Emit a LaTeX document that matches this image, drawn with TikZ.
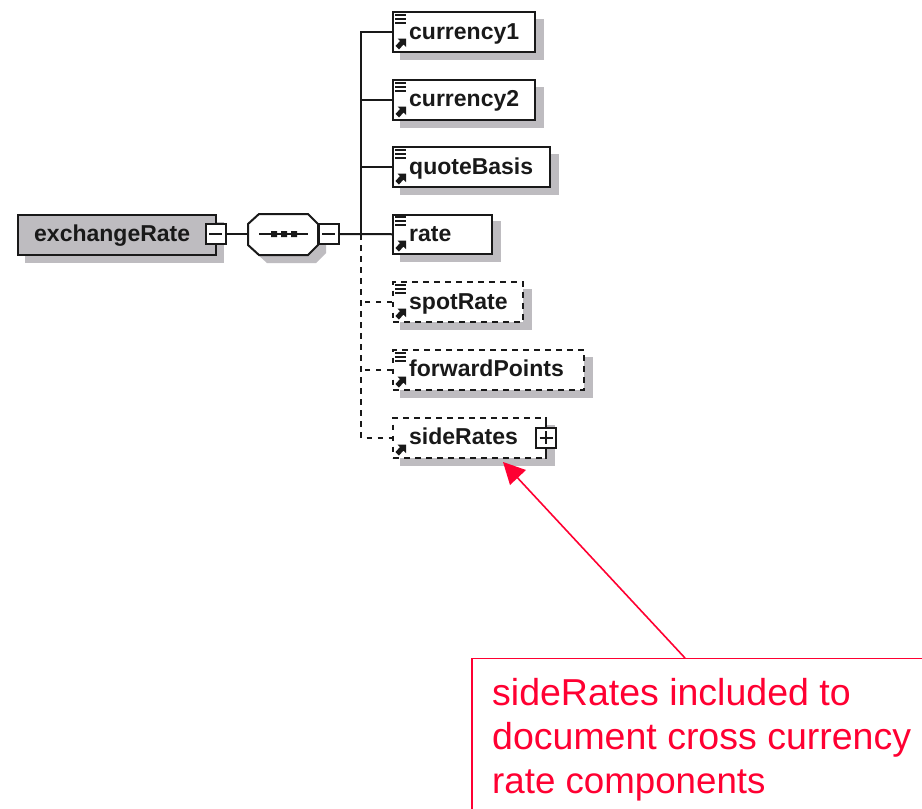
\documentclass[tikz,border=0pt]{standalone}
\usepackage{fontspec}
\setmainfont{Liberation Sans}
\definecolor{shadowgray}{RGB}{190,188,192}
\definecolor{rootgray}{RGB}{190,188,192}
\definecolor{inkdark}{RGB}{25,25,25}
\definecolor{notered}{RGB}{255,0,50}
\tikzset{
  x=1pt,y=-1pt,
  conn/.style={inkdark,line width=2pt},
  dconn/.style={inkdark,line width=2pt,dash pattern=on 5.5pt off 5.5pt},
  elbox/.style={draw=inkdark,fill=white,line width=2pt,minimum height=39.5pt,inner sep=0pt,anchor=north west},
  optbox/.style={elbox,dash pattern=on 5.5pt off 5.5pt},
  lab/.style={font=\fontsize{23}{23}\bfseries\selectfont,text=inkdark,anchor=base west,inner sep=0pt},
  notelab/.style={anchor=base west,inner sep=0pt,text=notered,font=\fontsize{37.5}{37.5}\selectfont},
  togglebox/.style={draw=inkdark,fill=white,line width=2pt,minimum width=20pt,minimum height=20pt,inner sep=0pt},
  shade/.style={fill=shadowgray,draw=none},
  lines/.style={inkdark,line width=1.2pt},
}
\newcommand{\elementicons}[2]{%
  \fill[inkdark] (#1+5.5,#2+27.5) -- (#1+14,#2+27.5) -- (#1+14,#2+36) -- (#1+11.5,#2+33.5) -- (#1+7,#2+38.5) -- (#1+3.5,#2+35) -- (#1+8,#2+30) -- cycle;}
\newcommand{\doclines}[2]{%
  \draw[lines] (#1+3,#2+4) -- (#1+14,#2+4) (#1+3,#2+8) -- (#1+14,#2+8) (#1+3,#2+12) -- (#1+14,#2+12);}
\begin{document}
\begin{tikzpicture}
\useasboundingbox (0,0) rectangle (922,809);
\fill[white] (0,0) rectangle (922,809);
% shadows
\fill[shade] (25,222) rectangle (224,263);
\fill[shade] (256,232) -- (267,222) -- (316,222) -- (326,232) -- (326,253) -- (316,263) -- (267,263) -- (256,253) -- cycle;
\foreach \l/\t/\r in {392/11/536,392/79/536,392/146/551,392/213/493,392/281/524,392/349/585,392/417/547}
  \fill[shade] (\l+8,\t+8) rectangle (\r+8,\t+49);
% root
\node[draw=inkdark,fill=rootgray,line width=2pt,minimum width=198pt,minimum height=40pt,inner sep=0pt,anchor=north west] (root) at (17,214) {};
\node[lab] (rootlab) at (34,241) {exchangeRate};
% sequence compositor
\draw[draw=inkdark,fill=white,line width=2pt] (248,224) -- (259,214) -- (308,214) -- (318,224) -- (318,245) -- (308,255) -- (259,255) -- (248,245) -- cycle;
\coordinate (seqW) at (248,234);
\draw[inkdark,line width=2pt] (259,234) -- (308,234);
\fill[inkdark] (271,231) rectangle (277,237) (281,231) rectangle (287,237) (291,231) rectangle (297,237);
% toggles
\node[togglebox] (tg1) at (215.5,234) {};
\draw[inkdark,line width=1.5pt] (209,234) -- (222,234);
\node[togglebox] (tg2) at (328.5,234) {};
\draw[inkdark,line width=1.5pt] (322,234) -- (335,234);
% elements
\node[elbox,minimum width=142pt] (currency1) at (392,11) {};
\node[elbox,minimum width=142pt] (currency2) at (392,79) {};
\node[elbox,minimum width=157pt] (quoteBasis) at (392,146) {};
\node[elbox,minimum width=99pt] (rate) at (392,213.5) {};
\node[optbox,minimum width=130pt] (spotRate) at (392,281) {};
\node[optbox,minimum width=191pt] (forwardPoints) at (392,349) {};
\node[optbox,minimum width=153pt] (sideRates) at (392,417) {};
% trunk
\coordinate (trunkTop) at (currency1.west -| 361,0);
\coordinate (trunkMid) at (rate.west -| 361,0);
\coordinate (trunkBot) at (sideRates.west -| 361,0);
% connectors
\draw[conn] (tg1.east) -- (seqW);
\draw[conn] (tg2.east) -- (rate.west);
\draw[conn] (currency1.west) -- (trunkTop) -- (trunkMid);
\draw[conn] (currency2.west) -- (currency2.west -| trunkMid);
\draw[conn] (quoteBasis.west) -- (quoteBasis.west -| trunkMid);
\draw[dconn] (trunkMid) -- (trunkBot) -- (sideRates.west);
\draw[dconn] (spotRate.west) -- (spotRate.west -| trunkMid);
\draw[dconn] (forwardPoints.west) -- (forwardPoints.west -| trunkMid);
% labels and icons
\foreach \l/\t in {392/11,392/79,392/146,392/213,392/281,392/349}
  \doclines{\l}{\t};
\foreach \l/\t in {392/11,392/79,392/146,392/213,392/281,392/349,392/417}
  \elementicons{\l}{\t};
\node[lab] (l1) at (409,39) {currency1};
\node[lab] (l2) at (409,106) {currency2};
\node[lab] (l3) at (409,174) {quoteBasis};
\node[lab] (l4) at (409,241) {rate};
\node[lab] (l5) at (409,309) {spotRate};
\node[lab] (l6) at (409,376) {forwardPoints};
\node[lab] (l7) at (409,444) {sideRates};
\draw[inkdark,line width=2pt] (sideRates.north -| 546,0) -- (sideRates.south -| 546,0);
\node[togglebox] (tg3) at (546,437.5) {};
\draw[inkdark,line width=2pt] (539.5,437.5) -- (552.5,437.5) (546,431) -- (546,444);
% annotation
\draw[draw=notered,line width=1.8pt] (472,809) -- (472,658.5) -- (922,658.5);
\coordinate (noteTop) at (685,658);
\coordinate (noteTip) at (503,462);
\draw[notered,line width=1.6pt] (noteTop) -- (514,474);
\fill[notered] (noteTip) -- (526,470) -- (510,485) -- cycle;
\node[notelab] (n1) at (492,705.5) {sideRates included to};
\node[notelab] (n2) at (492,749) {document cross currency};
\node[notelab,font=\fontsize{36.7}{36.7}\selectfont] (n3) at (492,793.5) {rate components};
\end{tikzpicture}
\end{document}
